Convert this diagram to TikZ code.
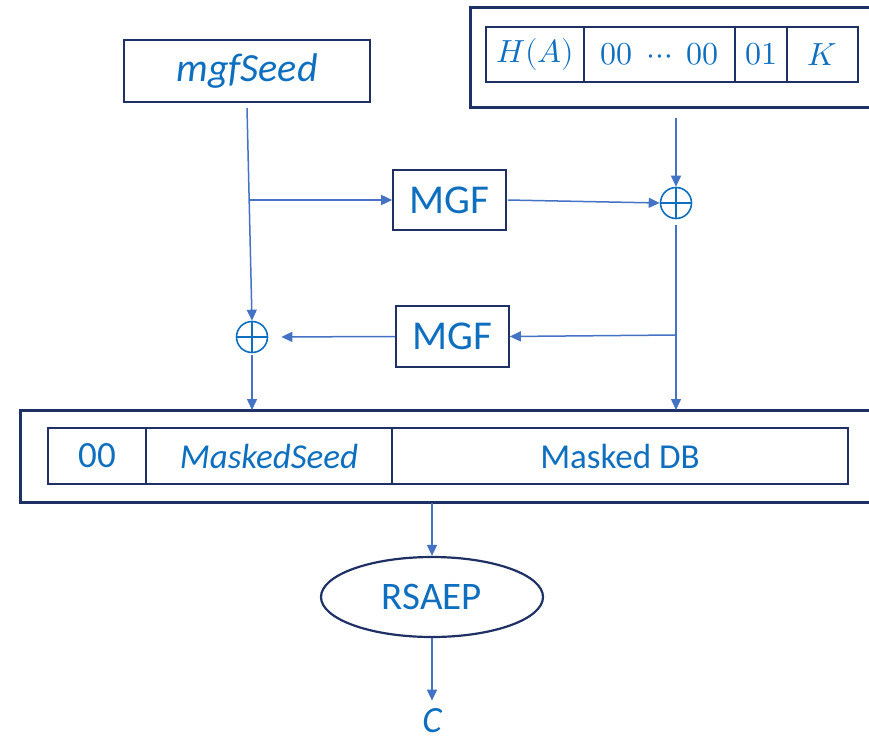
\documentclass[tikz,border=0pt]{standalone}
\usepackage{fontspec}
\usepackage{unicode-math}
\setmainfont{Carlito}
\setmathfont{Latin Modern Math}
\usetikzlibrary{arrows.meta,shapes.geometric,calc}

\definecolor{txtblue}{HTML}{0F6FBF}
\definecolor{linkblue}{HTML}{4472C4}
\definecolor{navy}{HTML}{1F3064}

\tikzset{
  box/.style={draw=navy, line width=1.6pt, rectangle, inner sep=0pt,
    text=txtblue, font=\fontsize{41}{48}\selectfont},
  frame/.style={draw=navy, line width=3pt, rectangle, inner sep=0pt},
  cell/.style={draw=navy, line width=1.4pt, rectangle, inner sep=0pt,
    minimum height=55pt, text=txtblue, font=\fontsize{35}{42}\selectfont},
  mcell/.style={cell, font=\fontsize{32}{38}\selectfont},
  xorop/.style={circle, draw=txtblue, line width=1.6pt, minimum size=31pt,
    inner sep=0pt,
    path picture={
      \draw[txtblue, line width=1.6pt]
        (path picture bounding box.north) -- (path picture bounding box.south)
        (path picture bounding box.west) -- (path picture bounding box.east);}},
  link/.style={draw=linkblue, line width=1.5pt,
    -{Triangle[length=11pt,width=10pt]}},
}

\begin{document}
\begin{tikzpicture}[x=1pt,y=-1pt]
\useasboundingbox (0,0) rectangle (869,738);

% seed input
\node[box, minimum width=246pt, minimum height=62pt, font=\fontsize{40}{48}\selectfont\itshape]
  (seed) at (247,71) {mgfSeed};

% data block: H(A) | 00...00 | 01 | K
\node[frame, minimum width=412pt, minimum height=100pt] (topframe) at (676,58) {};
\node[mcell, minimum width=98pt]  (ha)  at (535,54.5) {$H(A)$};
\node[mcell, minimum width=151pt] (pad) at (659.5,54.5) {$00\;\cdots\;00$};
\node[mcell, minimum width=52pt]  (one) at (761,54.5) {$01$};
\node[mcell, minimum width=71pt]  (key) at (822.5,54.5) {$K$};

% mask generation and XOR steps
\node[xorop] (xor1) at (676,203) {};
\node[box, minimum width=113pt, minimum height=60pt] (mgf1) at (449.5,200) {MGF};
\node[box, minimum width=113pt, minimum height=61pt] (mgf2) at (452.5,336.5) {MGF};
\node[xorop] (xor2) at (252,337) {};

% encoded message: 00 | MaskedSeed | Masked DB
\node[frame, minimum width=866pt, minimum height=92pt] (botframe) at (453,456) {};
\node[cell, minimum width=98pt, minimum height=56pt, font=\fontsize{37}{44}\selectfont]
  (zero)  at (97,456) {00};
\node[cell, minimum width=246pt, minimum height=56pt, font=\fontsize{35}{42}\selectfont\itshape]
  (mseed) at (269,456) {MaskedSeed};
\node[cell, minimum width=456pt, minimum height=56pt] (mdb) at (620,456) {Masked DB};

% encryption primitive and output
\node[ellipse, draw=navy, line width=2.2pt, minimum width=222pt, minimum height=80pt,
  inner sep=0pt, text=txtblue, font=\fontsize{39}{46}\selectfont] (rsaep) at (432,597) {RSAEP};
\node[text=txtblue, font=\fontsize{37}{44}\selectfont\itshape, inner sep=0pt] (out) at (432,721) {C};

% branch points
\coordinate (s0) at (247,108);
\coordinate (b1) at (248.5,200);
\coordinate (t0) at (676,118);
\coordinate (x1o) at (676,225);
\coordinate (b2) at (676,335);
\coordinate (dbin) at (676,410);
\coordinate (x2o) at (252,355);
\coordinate (sdin) at (252,410);
\coordinate (bo) at (432,503);

% connectors
\draw[link] (s0) -- (xor2.north);
\draw[link] (b1) -- (mgf1.west);
\draw[link, shorten <=1pt] (mgf1.east) -- (xor1.west);
\draw[link] (t0) -- (xor1.north);
\draw[link] (x1o) -- (dbin);
\draw[link] (b2) -- (mgf2.east);
\draw[link, shorten >=13pt] (mgf2.west) -- (xor2.east);
\draw[link] (x2o) -- (sdin);
\draw[link] (bo) -- (rsaep.north);
\draw[link, shorten >=8pt] (rsaep.south) -- (out.north);
\end{tikzpicture}
\end{document}
